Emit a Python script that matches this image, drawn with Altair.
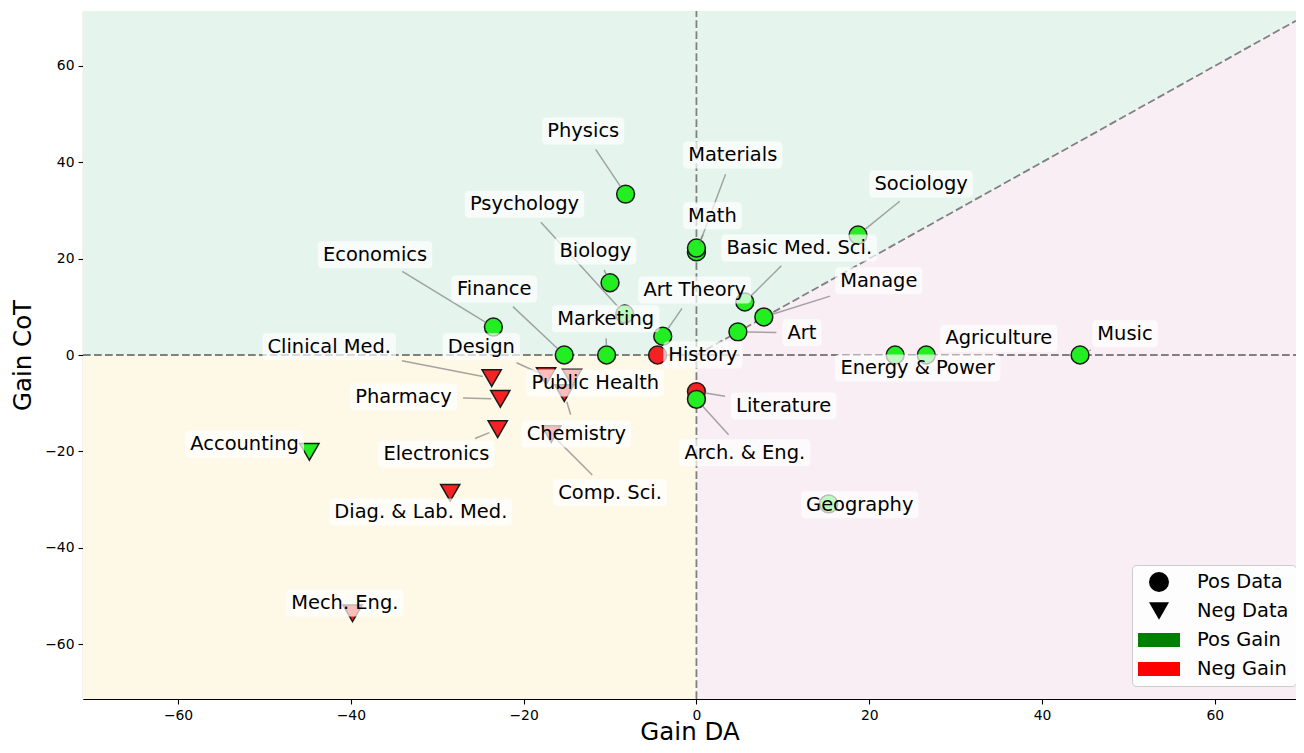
import math
import altair as alt
import pandas as pd

# ---------------- data ----------------
names = ["Physics", "Materials", "Math", "Sociology", "Psychology", "Biology",
         "Economics", "Finance", "Marketing", "History", "Art Theory",
         "Basic Med. Sci.", "Manage", "Art", "Energy & Power", "Agriculture",
         "Music", "Literature", "Arch. & Eng.", "Geography", "Clinical Med.",
         "Design", "Public Health", "Chemistry", "Pharmacy", "Electronics",
         "Comp. Sci.", "Accounting", "Diag. & Lab. Med.", "Mech. Eng."]
gain_da = [-8.2, 0.0, 0.0, 18.7, -8.3, -10.0, -23.5, -15.3, -10.4, -4.5, -3.9,
           5.6, 7.8, 4.8, 23.0, 26.6, 44.4, 0.0, 0.0, 15.3, -23.7,
           -17.4, -14.4, -15.3, -22.7, -23.0, -16.8, -44.8, -28.5, -39.8]
gain_cot = [33.4, 21.4, 22.2, 24.9, 8.5, 15.0, 5.8, 0.0, 0.0, 0.0, 3.9,
            11.0, 7.9, 4.8, 0.0, 0.0, 0.0, -7.6, -9.2, -30.9, -4.8,
            -4.4, -4.7, -7.9, -9.1, -15.4, -16.4, -20.1, -28.6, -53.6]
data_type = ["Pos Data"] * 20 + ["Neg Data"] * 10
gain_type = ["Pos Gain", "Pos Gain", "Pos Gain", "Pos Gain", "Pos Gain", "Pos Gain",
             "Pos Gain", "Pos Gain", "Pos Gain", "Neg Gain", "Pos Gain",
             "Pos Gain", "Pos Gain", "Pos Gain", "Pos Gain", "Pos Gain",
             "Pos Gain", "Neg Gain", "Pos Gain", "Pos Gain", "Neg Gain",
             "Neg Gain", "Neg Gain", "Neg Gain", "Neg Gain", "Neg Gain",
             "Neg Gain", "Pos Gain", "Neg Gain", "Neg Gain"]
label_x = [-13.1, 4.2, 1.85, 26.0, -19.9, -11.7, -37.2, -23.4, -10.5, 0.75, -0.2,
           11.9, 21.1, 12.2, 25.6, 35.0, 49.6, 10.1, 5.6, 18.9, -42.5,
           -24.9, -11.7, -13.9, -33.9, -30.1, -10.0, -52.3, -31.9, -40.7]
label_y = [46.5, 41.5, 28.9, 35.5, 31.3, 21.6, 20.8, 13.7, 7.5, 0.0, 13.5,
           22.2, 15.4, 4.6, -2.7, 3.5, 4.4, -10.6, -20.3, -31.1, 1.7,
           1.7, -5.8, -16.4, -8.7, -20.6, -28.6, -18.5, -32.6, -51.5]

legend_keys = ["Pos Data", "Neg Data", "Pos Gain", "Neg Gain"]
tick_values = [-60, -40, -20, 0, 20, 40, 60]

# ---------------- layout / style ----------------
PLOT_W, PLOT_H = 1213, 688
X_DOM = [-71.0, -71.0 + PLOT_W / 8.64]
Y_DOM = [-71.4, 71.4]
SX = PLOT_W / (X_DOM[1] - X_DOM[0])
SY = PLOT_H / (Y_DOM[1] - Y_DOM[0])
FONT = "DejaVu Sans"
LABEL_SIZE = 19.44
GREEN = "#22ee22"
RED = "#f42222"
BG_GREEN = "#e5f5ee"
BG_YELLOW = "#fef8e6"
BG_PINK = "#f8eef4"
RECT_PATH = "M-2.1,-0.7H2.1V0.7H-2.1Z"

CHAR_W = {' ': 0.318, '.': 0.318, '&': 0.780, 'A': 0.684, 'B': 0.686, 'C': 0.698,
          'D': 0.770, 'E': 0.632, 'F': 0.575, 'G': 0.775, 'H': 0.752, 'L': 0.557,
          'M': 0.863, 'P': 0.603, 'S': 0.635, 'T': 0.611, 'a': 0.613, 'b': 0.635,
          'c': 0.550, 'd': 0.635, 'e': 0.615, 'f': 0.352, 'g': 0.635, 'h': 0.634,
          'i': 0.278, 'k': 0.579, 'l': 0.278, 'm': 0.974, 'n': 0.634, 'o': 0.612,
          'p': 0.635, 'r': 0.411, 's': 0.521, 't': 0.392, 'u': 0.634, 'w': 0.818,
          'y': 0.592}


def text_px(s):
    return sum(CHAR_W.get(c, 0.6) for c in s) * LABEL_SIZE


# ---------------- tables ----------------
pts = pd.DataFrame({"name": names, "x": gain_da, "y": gain_cot,
                    "kind": data_type, "gain": gain_type})
pts["fillc"] = [GREEN if g == "Pos Gain" else RED for g in gain_type]
pts["shape"] = ["circle" if k == "Pos Data" else "triangle-down" for k in data_type]
pts["msize"] = [320 if k == "Pos Data" else 370 for k in data_type]

box_rows, line_rows = [], []
for n, px, py, lx, ly in zip(names, gain_da, gain_cot, label_x, label_y):
    hw = text_px(n) / 2 + 5
    hh = 13.5
    box_rows.append({"name": n, "lx": lx, "ly": ly,
                     "bx1": lx - hw / SX, "bx2": lx + hw / SX,
                     "by1": ly - hh / SY, "by2": ly + hh / SY})
    dx = (px - lx) * SX
    dy = (py - ly) * SY
    L = math.hypot(dx, dy)
    if L == 0:
        continue
    d_exit = min(hw * L / abs(dx) if dx else 1e9, hh * L / abs(dy) if dy else 1e9)
    d0 = d_exit + 6
    d1 = L - 9
    if d1 - d0 < 2:
        continue
    ux, uy = dx / L, dy / L
    line_rows.append({"x1": lx + ux * d0 / SX, "y1": ly + uy * d0 / SY,
                      "x2": lx + ux * d1 / SX, "y2": ly + uy * d1 / SY})
boxes = pd.DataFrame(box_rows)
lines = pd.DataFrame(line_rows)

rects = pd.DataFrame({"x1": [X_DOM[0], X_DOM[0]], "x2": [0, 0],
                      "y1": [Y_DOM[0], 0], "y2": [0, Y_DOM[1]],
                      "fillc": [BG_YELLOW, BG_GREEN]})
diag = pd.DataFrame({"x": [0, X_DOM[1]], "d": [0, X_DOM[1]],
                     "top": [Y_DOM[1], Y_DOM[1]], "bot": [Y_DOM[0], Y_DOM[0]]})
guides = pd.DataFrame({"x1": [0, X_DOM[0], 0], "x2": [0, X_DOM[1], X_DOM[1]],
                       "y1": [Y_DOM[0], 0, 0], "y2": [Y_DOM[1], 0, X_DOM[1]]})
leg_df = pd.DataFrame({"key": legend_keys, "x": [0] * 4, "y": [0] * 4})

# ---------------- scales / axes ----------------
xs = alt.Scale(domain=X_DOM, nice=False, zero=False)
ys = alt.Scale(domain=Y_DOM, nice=False, zero=False)
lab_expr = "replace(datum.label, '-', '\u2212')"
x_bottom = alt.Axis(title="Gain DA", orient="bottom", values=tick_values,
                    labelExpr=lab_expr, titleBaseline="alphabetic", titleY=40)
x_top = alt.Axis(title=None, orient="top", labels=False, ticks=False)
y_axis = alt.Axis(title="Gain CoT", values=tick_values, labelExpr=lab_expr,
                  titlePadding=9)

bg_rect = alt.Chart(rects).mark_rect().encode(
    x=alt.X("x1:Q", scale=xs, axis=x_top), x2="x2:Q",
    y=alt.Y("y1:Q", scale=ys, axis=y_axis), y2="y2:Q",
    fill=alt.Fill("fillc:N", scale=None))

area_green = alt.Chart(diag).mark_area(color=BG_GREEN).encode(
    x=alt.X("x:Q", scale=xs, axis=None),
    y=alt.Y("d:Q", scale=ys, axis=y_axis), y2="top:Q")
area_pink = alt.Chart(diag).mark_area(color=BG_PINK).encode(
    x=alt.X("x:Q", scale=xs, axis=None),
    y=alt.Y("bot:Q", scale=ys, axis=y_axis), y2="d:Q")

guide_lines = alt.Chart(guides).mark_rule(
    color="#808080", strokeWidth=1.8, strokeDash=[7.7, 3.3]).encode(
    x=alt.X("x1:Q", scale=xs, axis=None), x2="x2:Q",
    y=alt.Y("y1:Q", scale=ys, axis=y_axis), y2="y2:Q")

points = alt.Chart(pts).mark_point(filled=True, stroke="#1a1a1a", strokeWidth=1.5,
                                   opacity=1).encode(
    x=alt.X("x:Q", scale=xs, axis=x_bottom),
    y=alt.Y("y:Q", scale=ys, axis=y_axis),
    fill=alt.Fill("fillc:N", scale=None),
    shape=alt.Shape("shape:N", scale=None),
    size=alt.Size("msize:Q", scale=None))

leaders = alt.Chart(lines).mark_rule(color="#808080", opacity=0.7, strokeWidth=1.5).encode(
    x=alt.X("x1:Q", scale=xs, axis=None), x2="x2:Q",
    y=alt.Y("y1:Q", scale=ys, axis=y_axis), y2="y2:Q")

label_boxes = alt.Chart(boxes).mark_rect(fill="white", fillOpacity=0.7, cornerRadius=4).encode(
    x=alt.X("bx1:Q", scale=xs, axis=None), x2="bx2:Q",
    y=alt.Y("by1:Q", scale=ys, axis=y_axis), y2="by2:Q")

label_text = alt.Chart(boxes).mark_text(font=FONT, fontSize=LABEL_SIZE, color="black",
                                        align="center", baseline="middle").encode(
    x=alt.X("lx:Q", scale=xs, axis=None),
    y=alt.Y("ly:Q", scale=ys, axis=y_axis),
    text="name:N")

leg = alt.Legend(title=None, orient="none", legendX=1049, legendY=554,
                 direction="vertical", fillColor="rgba(255,255,255,0.85)",
                 strokeColor="#cccccc", cornerRadius=4, padding=7,
                 labelFont=FONT, labelFontSize=LABEL_SIZE, labelColor="black",
                 symbolSize=400, symbolOffset=10, labelOffset=28, rowPadding=9,
                 symbolOpacity=1, symbolStrokeWidth=0)
legend_layer = alt.Chart(leg_df).mark_point(filled=True, opacity=0).encode(
    x=alt.X("x:Q", scale=xs, axis=None),
    y=alt.Y("y:Q", scale=ys, axis=y_axis),
    color=alt.Color("key:N", scale=alt.Scale(domain=legend_keys,
                                             range=["black", "black", "#008000", "#ff0000"]),
                    legend=leg),
    shape=alt.Shape("key:N", scale=alt.Scale(domain=legend_keys,
                                             range=["circle", "triangle-down", RECT_PATH, RECT_PATH]),
                    legend=leg))

chart = alt.layer(bg_rect, area_green, area_pink, guide_lines, points, leaders,
                  label_boxes, label_text, legend_layer).properties(
    width=PLOT_W, height=PLOT_H,
    padding={"left": 75, "top": 3, "right": 0, "bottom": 46},
    autosize=alt.AutoSizeParams(type="none"),
).resolve_axis(x="independent").configure_view(stroke=None).configure_axis(
    labelFont=FONT, labelFontSize=13.9, labelColor="black",
    titleFont=FONT, titleFontSize=24.5, titleFontWeight="normal", titleColor="black",
    domainColor="black", tickColor="black", domainWidth=1.1, tickWidth=1.1,
    tickSize=5, labelPadding=4, grid=False)

chart.save("out.html", embed_options={"renderer": "svg", "actions": False})
